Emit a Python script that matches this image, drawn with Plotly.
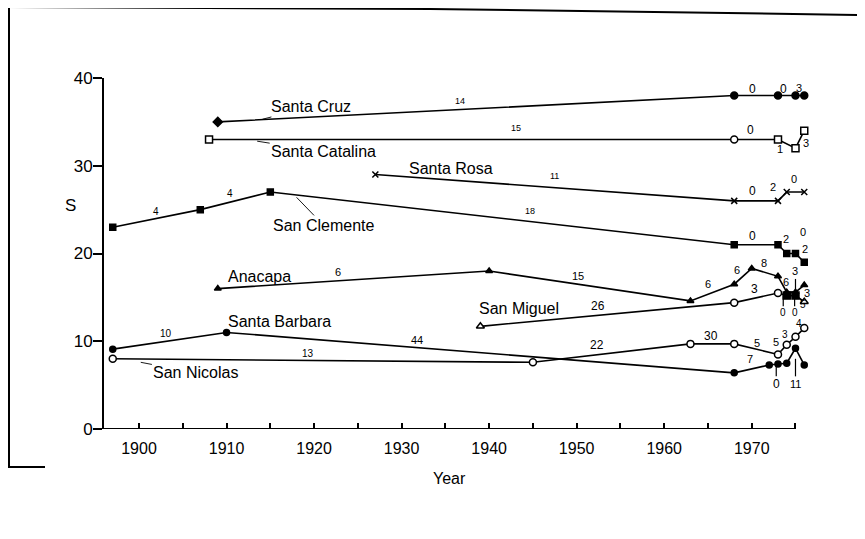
import plotly.graph_objects as go

# ---------------- data ----------------
years_cruz = [1909, 1968, 1973, 1975, 1976]
s_cruz = [35, 38, 38, 38, 38]

years_catalina = [1908, 1968, 1973, 1975, 1976]
s_catalina = [33, 33, 33, 32, 34]

years_rosa = [1927, 1968, 1973, 1974, 1976]
s_rosa = [29, 26, 26, 27, 27]

years_clemente = [1897, 1907, 1915, 1968, 1973, 1974, 1975, 1976]
s_clemente = [23, 25, 27, 21, 21, 20, 20, 19]

years_anacapa = [1909, 1940, 1963, 1968, 1970, 1973, 1974, 1975, 1976]
s_anacapa = [16, 18, 14.6, 16.5, 18.3, 17.4, 15.6, 15.6, 16.4]

years_miguel = [1939, 1968, 1973, 1974, 1975, 1976]
s_miguel = [11.7, 14.4, 15.5, 15.2, 15.2, 14.5]

years_barbara = [1897, 1910, 1968, 1972, 1973, 1974, 1975, 1976]
s_barbara = [9.1, 11, 6.4, 7.3, 7.4, 7.5, 9.2, 7.3]

years_nicolas = [1897, 1945, 1963, 1968, 1973, 1974, 1975, 1976]
s_nicolas = [8, 7.6, 9.7, 9.7, 8.5, 9.6, 10.5, 11.5]

x_tick_years = list(range(1900, 1976, 5))
x_tick_labels = [str(y) if y % 10 == 0 else "" for y in x_tick_years]
y_tick_values = [0, 10, 20, 30, 40]

# turnover numbers between censuses
turnover_text = ["14", "0", "0", "3",
                 "15", "0", "1", "3",
                 "11", "0", "2", "0",
                 "4", "4", "18", "0", "2", "0", "2",
                 "6", "15", "6", "6", "8", "6", "3", "3",
                 "26", "3", "0", "0", "5",
                 "10", "44", "7", "0", "11",
                 "13", "22", "30", "5", "5", "3", "4"]

# ---------------- styles / positions ----------------
FONT = "Liberation Sans"
BLACK = "#000000"

turnover_pos = [(1936.7, 37.4), (1970.1, 38.8), (1973.6, 38.8), (1975.4, 38.9),
                (1943.1, 34.3), (1969.9, 34.1), (1973.2, 31.9), (1976.2, 32.6),
                (1947.5, 28.8), (1970.1, 27.1), (1972.4, 27.6), (1974.8, 28.5),
                (1901.9, 24.8), (1910.4, 26.8), (1944.7, 24.8), (1970.1, 22.0),
                (1973.9, 21.6), (1975.9, 22.4), (1976.1, 20.5),
                (1922.7, 17.9), (1950.2, 17.4), (1965.0, 16.5), (1968.3, 18.1),
                (1971.4, 18.9), (1973.9, 16.8), (1975.0, 18.0), (1976.3, 15.5),
                (1952.4, 14.0), (1970.3, 15.9), (1973.6, 13.3), (1974.9, 13.3),
                (1975.9, 14.2),
                (1903.1, 10.9), (1931.8, 10.2), (1969.8, 8.0), (1972.8, 5.1),
                (1975.0, 5.1),
                (1919.3, 8.6), (1952.3, 9.6), (1965.4, 10.6), (1970.6, 9.8),
                (1972.8, 9.9), (1973.8, 10.8), (1975.4, 12.0)]
turnover_sizes = [9, 12, 12, 11,
                  9, 12, 11, 11,
                  9, 12, 11, 11,
                  10, 10, 9, 12, 11, 11, 11,
                  11, 11, 11, 11, 11, 11, 11, 11,
                  12, 12, 10, 10, 10,
                  10, 11, 11, 12, 11,
                  10, 12, 12, 11, 11, 10, 10]

pointer_lines = [((1973.6, 14.0), (1973.6, 15.2)),
                 ((1974.9, 14.0), (1974.9, 15.2)),
                 ((1972.8, 6.0), (1972.8, 7.3)),
                 ((1975.0, 6.0), (1975.0, 8.0)),
                 ((1975.0, 17.1), (1975.0, 15.7))]


def marker_style(symbols, fills, size=7):
    return dict(symbol=symbols, size=size,
                color=[BLACK if f else "white" for f in fills],
                line=dict(color=BLACK, width=1.5))


series = [
    ("Santa Cruz", years_cruz, s_cruz,
     marker_style(["diamond"] + ["circle"] * 4, [1] * 5, 7)),
    ("Santa Catalina", years_catalina, s_catalina,
     marker_style(["square", "circle", "square", "square", "square"], [0] * 5, 7)),
    ("Santa Rosa", years_rosa, s_rosa,
     dict(symbol="x-thin", size=6, color=BLACK, line=dict(color=BLACK, width=1.5))),
    ("San Clemente", years_clemente, s_clemente,
     marker_style(["square"] * 8, [1] * 8, 6)),
    ("Anacapa", years_anacapa, s_anacapa,
     marker_style(["triangle-up"] * 9, [1] * 9, 6)),
    ("San Miguel", years_miguel, s_miguel,
     marker_style(["triangle-up", "circle", "circle", "square", "square", "triangle-up"],
                  [0, 0, 0, 1, 1, 0], 7)),
    ("Santa Barbara", years_barbara, s_barbara,
     marker_style(["circle"] * 8, [1] * 8, 6)),
    ("San Nicolas", years_nicolas, s_nicolas,
     marker_style(["circle"] * 8, [0] * 8, 7)),
]

fig = go.Figure()
for name, xs, ys, mk in series:
    fig.add_trace(go.Scatter(x=xs, y=ys, mode="lines+markers", name=name,
                             line=dict(color=BLACK, width=1.6), marker=mk,
                             cliponaxis=False, showlegend=False,
                             hoverinfo="x+y+name"))

annotations = []
for t, (xv, yv), sz in zip(turnover_text, turnover_pos, turnover_sizes):
    annotations.append(dict(x=xv, y=yv, xref="x", yref="y", text=t, showarrow=False,
                            xanchor="center", yanchor="middle",
                            font=dict(family=FONT, size=sz, color=BLACK)))

# island names with leader lines: (text, text_x, text_y, head_x, head_y)
names = [("Santa Cruz", 1919.6, 36.7, 1914.1, 35.3),
         ("Santa Catalina", 1921.1, 31.6, 1913.5, 32.8),
         ("San Clemente", 1921.1, 23.2, 1918.0, 26.4),
         ("San Nicolas", 1906.5, 6.4, 1900.2, 7.6),
         ("Santa Barbara", None, None, 1916.1, 12.2),
         ("Anacapa", None, None, 1913.8, 17.4),
         ("Santa Rosa", None, None, 1935.6, 29.7),
         ("San Miguel", None, None, 1943.4, 13.7)]
for text, tx, ty, hx, hy in names:
    f = dict(family=FONT, size=16, color=BLACK)
    if tx is None:
        annotations.append(dict(x=hx, y=hy, xref="x", yref="y", text=text,
                                showarrow=False, xanchor="center", yanchor="middle",
                                font=f))
    else:
        ax = (tx - hx) * 8.753
        ay = -(ty - hy) * 8.775
        annotations.append(dict(x=hx, y=hy, xref="x", yref="y", text=text,
                                showarrow=True, arrowhead=0, arrowwidth=0.9,
                                arrowcolor=BLACK, ax=ax, ay=ay, font=f))

# page offset: the page body adds 8px around the figure
OFF = 8
L, W, T, H = 104 - OFF, 709, 78 - OFF, 351
FIG_W, FIG_H = 865 - OFF, 539 - OFF


def px(x):
    return (x - OFF - L) / W


def py(y):
    return (T + H - (y - OFF)) / H


annotations.append(dict(x=1935.5, y=py(478), xref="x", yref="paper", text="Year",
                        showarrow=False, xanchor="center", yanchor="middle",
                        font=dict(family=FONT, size=16, color=BLACK)))
annotations.append(dict(x=px(70), y=25.5, xref="paper", yref="y", text="S",
                        showarrow=False, xanchor="center", yanchor="middle",
                        font=dict(family=FONT, size=17, color=BLACK)))

shapes = [dict(type="line", xref="x", yref="y", x0=1896, x1=1975, y0=0, y1=0,
               line=dict(color=BLACK, width=2), layer="above")]
for (x0, y0), (x1, y1) in pointer_lines:
    shapes.append(dict(type="line", xref="x", yref="y", x0=x0, y0=y0, x1=x1, y1=y1,
                       line=dict(color=BLACK, width=1.2)))

frame = [((9, 7), (9, 467)), ((9, 7), (430, 9)), ((430, 9), (865, 15)),
         ((0, 467), (45, 467))]
for (x0, y0), (x1, y1) in frame:
    shapes.append(dict(type="line", xref="paper", yref="paper",
                       x0=px(x0), y0=py(y0), x1=px(x1), y1=py(y1),
                       line=dict(color=BLACK, width=2)))

fig.update_layout(
    width=FIG_W, height=FIG_H,
    margin=dict(l=L, r=FIG_W - L - W, t=T, b=FIG_H - T - H, pad=0),
    paper_bgcolor="white", plot_bgcolor="white",
    font=dict(family=FONT, size=15, color=BLACK),
    annotations=annotations, shapes=shapes,
    xaxis=dict(range=[1896, 1977], tickvals=x_tick_years, ticktext=x_tick_labels,
               ticks="inside", ticklen=6, tickwidth=1.5, tickcolor=BLACK,
               showline=False, showgrid=False, zeroline=False,
               ticklabelstandoff=8, tickfont=dict(family=FONT, size=16)),
    yaxis=dict(range=[0, 40], tickvals=y_tick_values, ticks="outside", ticklen=9,
               tickwidth=1.5, tickcolor=BLACK, showline=True, linewidth=2,
               linecolor=BLACK, showgrid=False, zeroline=False,
               ticklabelstandoff=-3, tickfont=dict(family=FONT, size=17)),
)

fig.write_html("out.html")
